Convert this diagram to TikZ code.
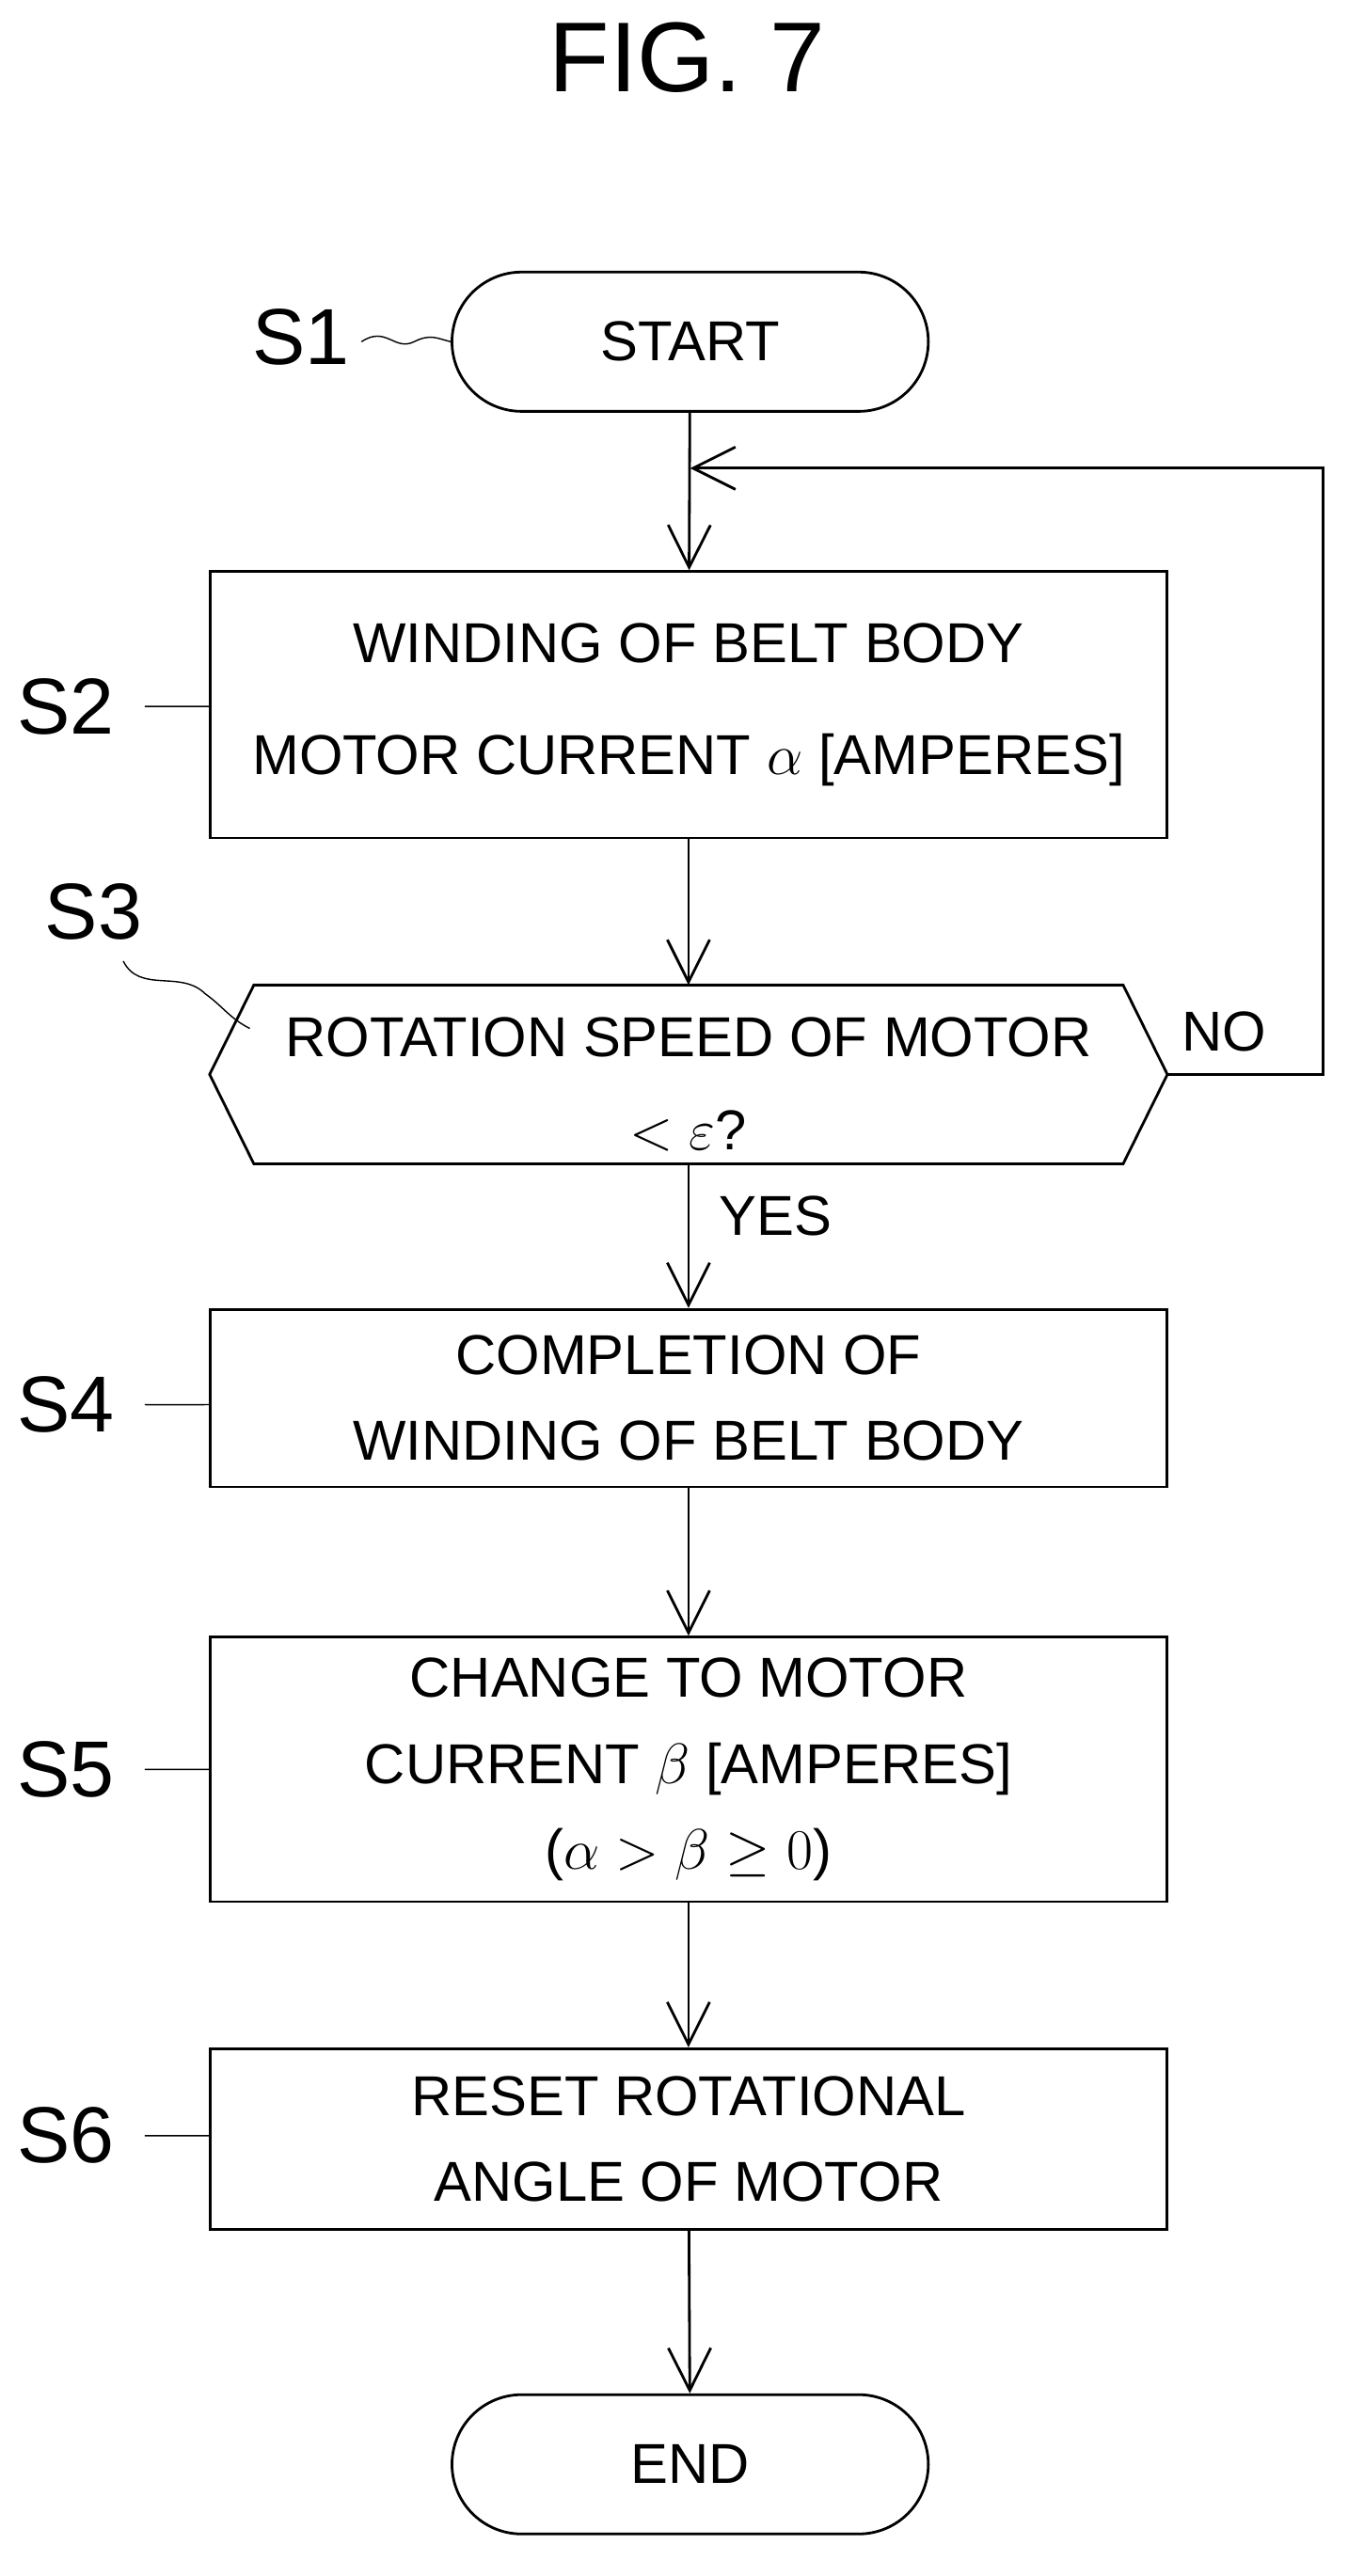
\documentclass[tikz,border=0pt]{standalone}
\usepackage{fontspec}
\setmainfont{Liberation Sans}
\usetikzlibrary{arrows.meta, positioning}

\tikzset{
    proc/.style={draw, thick, minimum width=10.16cm, align=center, inner sep=0pt,
        font=\fontsize{17}{34}\selectfont},
    term/.style={draw, thick, rounded corners=0.74cm, minimum width=5.06cm, minimum height=1.48cm,
        font=\fontsize{17}{20}\selectfont},
    flow/.style={thick, -{Straight Barb[length=4.5mm, width=4.5mm]}},
    tag/.style={font=\fontsize{24}{28}\selectfont},
    squig/.style={thin}
}

\begin{document}
\begin{tikzpicture}[x=0.01746cm, y=-0.01746cm]
    \useasboundingbox (0,0) rectangle (820,1568);

    % Title
    \node[font=\fontsize{30}{34}\selectfont] (title) at (418,35) {FIG. 7};

    % Steps
    \node[term] (start) at (420,208) {START};
    \node[proc, minimum height=2.83cm] (s2) at (419,429) {WINDING OF BELT BODY\\MOTOR CURRENT $\alpha$ [AMPERES]};
    \node[minimum width=10.16cm, minimum height=1.886cm] (s3) at (419,654) {};
    \draw[thick] (s3.west) -- ([xshift=0.47cm]s3.north west) -- ([xshift=-0.47cm]s3.north east)
        -- (s3.east) -- ([xshift=-0.47cm]s3.south east) -- ([xshift=0.47cm]s3.south west) -- cycle;
    \node[align=center, font=\fontsize{17}{28}\selectfont] (s3text) at (419,660) {ROTATION SPEED OF MOTOR\\$<\varepsilon$?};
    \node[proc, minimum height=1.886cm, font=\fontsize{17}{26}\selectfont] (s4) at (419,851) {COMPLETION OF\\WINDING OF BELT BODY};
    \node[proc, minimum height=2.81cm, font=\fontsize{17}{26}\selectfont] (s5) at (419,1077) {CHANGE TO MOTOR\\CURRENT $\beta$ [AMPERES]\\($\alpha > \beta \geq 0$)};
    \node[proc, minimum height=1.92cm, font=\fontsize{17}{26}\selectfont] (s6) at (419,1302) {RESET ROTATIONAL\\ANGLE OF MOTOR};
    \node[term] (stop) at (420,1500) {END};

    % Connectors
    \coordinate (top) at (805,285);
    \coordinate (join) at (420,285);
    \draw[flow] (start) -- (s2);
    \draw[flow] (s2) -- (s3.north);
    \draw[flow] (s3.south) -- (s4);
    \draw[flow] (s4) -- (s5);
    \draw[flow] (s5) -- (s6);
    \draw[flow] (s6) -- (stop);
    \draw[flow] (s3.east) -| (top) -- (join);

    \node[font=\fontsize{17}{20}\selectfont] (no) at (745,628) {NO};
    \node[font=\fontsize{17}{20}\selectfont] (yes) at (472,740) {YES};

    % Step labels
    \node[tag] (l1) at (183,205) {S1};
    \node[tag] (l2) at (40,430) {S2};
    \node[tag] (l3) at (57,555) {S3};
    \node[tag] (l4) at (40,855) {S4};
    \node[tag] (l5) at (40,1077) {S5};
    \node[tag] (l6) at (40,1300) {S6};

    \draw[squig] (220,208) .. controls (235,198) and (240,214) .. (252,208) .. controls (262,203) and (266,206) .. (start.west);
    \foreach \lab/\blk in {l2/s2, l4/s4, l5/s5, l6/s6} {
        \draw[squig] ([xshift=0.2cm]\lab.east) .. controls +(0.25,0.15) and +(-0.25,-0.1) .. ++(0.55,0)
            .. controls +(0.15,0.05) and +(-0.1,0) .. (\lab.east -| \blk.west);
    }
    \draw[squig] (75,585) .. controls (85,605) and (110,590) .. (125,605) .. controls (135,612) and (140,620) .. (152,626);
\end{tikzpicture}
\end{document}
